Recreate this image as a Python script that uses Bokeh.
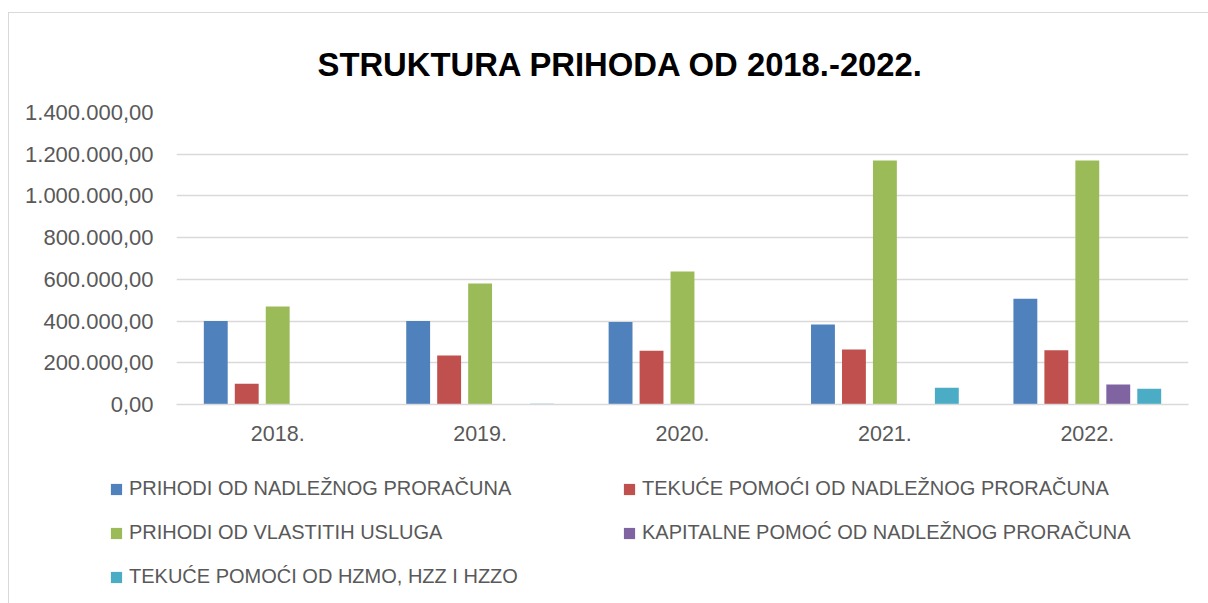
from bokeh.plotting import figure
from bokeh.layouts import column
from bokeh.models import (Legend, LegendItem, ColumnDataSource, FactorRange,
                          Range1d, FixedTicker)
from bokeh.transform import dodge
from bokeh.embed import file_html
from bokeh.resources import INLINE

years = ["2018.", "2019.", "2020.", "2021.", "2022."]

series_names = [
    "PRIHODI OD NADLEŽNOG PRORAČUNA",
    "TEKUĆE POMOĆI OD NADLEŽNOG PRORAČUNA",
    "PRIHODI OD VLASTITIH USLUGA",
    "KAPITALNE POMOĆ OD NADLEŽNOG PRORAČUNA",
    "TEKUĆE POMOĆI OD HZMO, HZZ I HZZO",
]

prihodi_nadlezni = [400000, 400000, 395000, 384000, 507000]
tekuce_pomoci_nadlezni = [100000, 235000, 258000, 264000, 260000]
vlastite_usluge = [470000, 580000, 638000, 1170000, 1170000]
kapitalne_pomoci = [0, 0, 0, 0, 96000]
tekuce_pomoci_hzmo = [0, 4000, 0, 80000, 75000]

series_values = [prihodi_nadlezni, tekuce_pomoci_nadlezni, vlastite_usluge,
                 kapitalne_pomoci, tekuce_pomoci_hzmo]
colors = ["#4F81BD", "#C0504D", "#9BBB59", "#8064A2", "#4BACC6"]

y_ticks = [0, 200000, 400000, 600000, 800000, 1000000, 1200000, 1400000]
y_tick_labels = ["0,00", "200.000,00", "400.000,00", "600.000,00",
                 "800.000,00", "1.000.000,00", "1.200.000,00", "1.400.000,00"]

TEXT = "#595959"
GRID = "#D9D9D9"

p = figure(width=1200, height=448,
           x_range=FactorRange(factors=years),
           y_range=Range1d(0, 1400000),
           output_backend="svg", toolbar_location=None,
           min_border_left=167, min_border_right=21,
           min_border_top=99, min_border_bottom=57,
           margin=(12, 0, 0, 8))
p.styles = {"border-left": "1px solid #D9D9D9", "border-top": "1px solid #D9D9D9"}
p.outline_line_color = None
p.background_fill_color = "white"
p.border_fill_color = "white"

p.title.text = "STRUKTURA PRIHODA OD 2018.-2022."
p.title.text_font = "Liberation Sans"
p.title.text_font_style = "bold"
p.title.text_font_size = "32.8px"
p.title.text_color = "black"
p.title.align = "left"
p.title.offset = 141
p.title.standoff = 60

step = 0.153
bw = 0.118
for i, (vals, col) in enumerate(zip(series_values, colors)):
    src = ColumnDataSource(data=dict(x=years, top=vals))
    p.vbar(x=dodge("x", (i - 2) * step, range=p.x_range), top="top",
           width=bw, source=src, fill_color=col, line_color=None)

p.xgrid.grid_line_color = None
p.ygrid.grid_line_color = GRID
p.ygrid.grid_line_width = 1.3
p.yaxis.ticker = FixedTicker(ticks=y_ticks)
p.yaxis.major_label_overrides = {t: l for t, l in zip(y_ticks, y_tick_labels)}
p.yaxis.axis_line_color = None
p.yaxis.major_tick_line_color = None
p.yaxis.minor_tick_line_color = None
p.yaxis.major_tick_out = 0
p.yaxis.major_label_standoff = 23
p.yaxis.major_label_text_font = "Liberation Sans"
p.yaxis.major_label_text_font_size = "22px"
p.yaxis.major_label_text_color = TEXT

p.xaxis.axis_line_color = GRID
p.xaxis.axis_line_width = 1.3
p.xaxis.major_tick_line_color = None
p.xaxis.major_tick_out = 0
p.xaxis.major_label_standoff = 21
p.xaxis.major_label_text_font = "Liberation Sans"
p.xaxis.major_label_text_font_size = "21.5px"
p.xaxis.major_label_text_color = TEXT

# legend panel (separate figure below the chart)
lp = figure(width=1200, height=143, x_range=Range1d(0, 1), y_range=Range1d(0, 1),
            x_axis_location=None, y_axis_location=None,
            output_backend="svg", toolbar_location=None,
            min_border_left=0, min_border_right=0, min_border_top=0,
            min_border_bottom=0, margin=(0, 0, 0, 8))
lp.frame_align = False
lp.styles = {"border-left": "1px solid #D9D9D9"}
lp.grid.visible = False
lp.outline_line_color = None
lp.background_fill_color = "white"
lp.border_fill_color = "white"

swatches = []
for col in colors:
    r = lp.vbar(x=[5], top=[5], bottom=[4], width=0.1, fill_color=col, line_color=None)
    swatches.append(r)


def make_legend(idx, loc):
    lg = Legend(items=[LegendItem(label=series_names[k], renderers=[swatches[k]]) for k in idx],
                location=loc)
    lg.label_text_font = "Liberation Sans"
    lg.label_text_font_size = "20px"
    lg.label_text_color = TEXT
    lg.glyph_width = 14
    lg.glyph_height = 14
    lg.label_standoff = 6
    lg.spacing = 21
    lg.padding = 0
    lg.margin = 0
    lg.border_line_color = None
    lg.background_fill_alpha = 0
    return lg


lp.add_layout(make_legend([0, 2, 4], (100, 15)))
lp.add_layout(make_legend([1, 3], (613, 59)))

layout = column(p, lp, spacing=0)
open("out.html", "w").write(file_html(layout, INLINE))
